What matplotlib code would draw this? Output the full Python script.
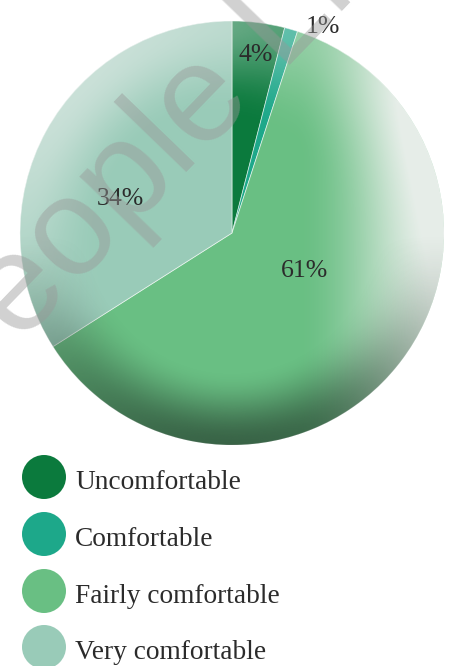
import numpy as np
import matplotlib
matplotlib.use("Agg")
import matplotlib.pyplot as plt
from matplotlib.patches import Circle

# comfort survey shares, clockwise from 12 o'clock
categories = ["Uncomfortable", "Comfortable", "Fairly comfortable", "Very comfortable"]
shares = [4, 1, 61, 34]
colors = ["#0b7a3d", "#1da88a", "#69bf83", "#99cbb8"]

# layout in pixel space (figure is 454 x 666 px)
W, H = 454, 666
cx, cy, R = 232, 233, 212
label_xy = [(256, 61), (323, 33), (305, 277), (120, 205)]   # text baselines
legend_y = [477, 534, 591, 647]

SERIF = "Liberation Serif"
INK = "#2b2b2b"

fig = plt.figure(figsize=(W / 100, H / 100), dpi=100)
ax = fig.add_axes([0, 0, 1, 1])

# y axis runs downward, so startangle -90 is 12 o'clock and the wedges run clockwise
wedges, _ = ax.pie(shares, colors=colors, startangle=-90, counterclock=True,
                   center=(cx, cy), radius=R,
                   wedgeprops=dict(edgecolor=(1, 1, 1, 0.6), linewidth=0.6))
ax.set_xlim(0, W)
ax.set_ylim(H, 0)
ax.set_aspect("auto")
ax.axis("off")


def smooth(a, b, x):
    t = np.clip((x - a) / (b - a), 0, 1)
    return t * t * (3 - 2 * t)


# soft lighting on the disc: light on the right and upper rim, shadow at the bottom
n = 500
g = np.linspace(-1, 1, n)
u, v = np.meshgrid(g, -g)
r = np.hypot(u, v)
th = np.arctan2(v, u)

a_w = 0.9 * smooth(0.3, 1.0, u) \
    + 0.55 * smooth(0.6, 1.0, r) * np.clip(np.cos(th - np.radians(140)), 0, 1) ** 2 \
    + 0.25 * smooth(0.5, 1.0, r) * np.clip(np.cos(th - np.radians(55)), 0, 1) ** 2
a_w = np.clip(a_w, 0, 0.92)
a_d = 0.65 * smooth(0.65, 1.0, r) * np.clip(-np.sin(th), 0, 1) ** 1.3

clip = Circle((cx, cy), R, transform=ax.transData)
extent = (cx - R, cx + R, cy + R, cy - R)

light = np.zeros((n, n, 4))
light[..., :3] = 0.95
light[..., 3] = a_w
im1 = ax.imshow(light, extent=extent, interpolation="bilinear", zorder=2)
im1.set_clip_path(clip)

shade = np.zeros((n, n, 4))
shade[..., :3] = np.array([31, 51, 38]) / 255
shade[..., 3] = a_d
im2 = ax.imshow(shade, extent=extent, interpolation="bilinear", zorder=2)
im2.set_clip_path(clip)

ax.set_xlim(0, W)
ax.set_ylim(H, 0)

# percentage labels
for val, (x, y) in zip(shares, label_xy):
    ax.text(x, y, f"{val}%", ha="center", va="baseline", fontsize=18.5,
            family=SERIF, color=INK, zorder=3)

# legend
for name, col, y in zip(categories, colors, legend_y):
    ax.add_patch(Circle((44, y), 22, facecolor=col, edgecolor="none", zorder=3))
    ax.text(75, y + 12, name, ha="left", va="baseline", fontsize=19.7,
            family=SERIF, color=INK, zorder=3)

# watermark
ax.text(-45, 412, "People Like", rotation=46, rotation_mode="anchor",
        ha="left", va="baseline", fontsize=100, family="Liberation Sans",
        color="#999999", alpha=0.45, zorder=4)

fig.savefig("out.png", dpi=100)
